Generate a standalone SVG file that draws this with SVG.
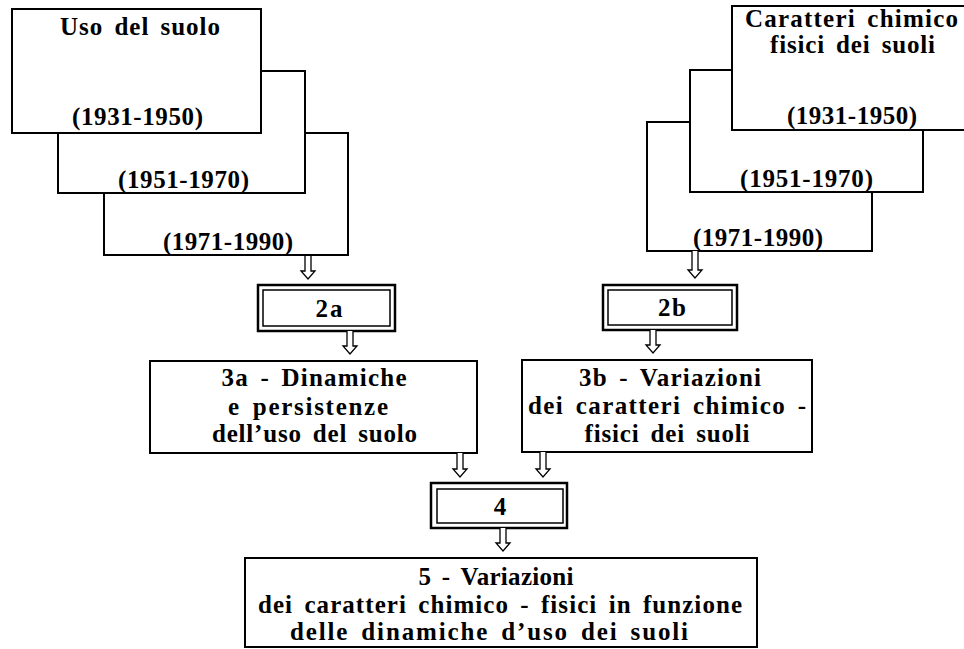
<svg xmlns="http://www.w3.org/2000/svg" width="964" height="649" viewBox="0 0 964 649">
<style>
  .box { fill: #fff; stroke: #000; stroke-width: 2; }
  .outer { fill: #fff; stroke: #000; stroke-width: 2.5; }
  .inner { fill: none; stroke: #000; stroke-width: 1.5; }
  .arr { fill: #fff; stroke: #000; stroke-width: 1.3; stroke-linejoin: miter; }
  text { font-family: "Liberation Serif", "Times New Roman", serif; font-weight: bold; font-size: 25px; fill: #000; text-anchor: middle; word-spacing: 4px; }
</style>
<rect width="964" height="649" fill="#fff"/>

<!-- Left stack -->
<g id="uso-1971">
  <rect class="box" x="104" y="133" width="244" height="122"/>
  <text x="228" y="250" textLength="130" lengthAdjust="spacing">(1971-1990)</text>
</g>
<g id="uso-1951">
  <rect class="box" x="58" y="71" width="247" height="122"/>
  <text x="183.5" y="188" textLength="131" lengthAdjust="spacing">(1951-1970)</text>
</g>
<g id="uso-1931">
  <rect class="box" x="12" y="9" width="249" height="124"/>
  <text x="140" y="35" textLength="160" lengthAdjust="spacing">Uso del suolo</text>
  <text x="137.5" y="125" textLength="131" lengthAdjust="spacing">(1931-1950)</text>
</g>

<!-- Right stack -->
<g id="car-1971">
  <rect class="box" x="647" y="122" width="225" height="129"/>
  <text x="758" y="246" textLength="130" lengthAdjust="spacing">(1971-1990)</text>
</g>
<g id="car-1951">
  <rect class="box" x="690" y="70" width="233" height="122"/>
  <text x="806.5" y="187" textLength="133" lengthAdjust="spacing">(1951-1970)</text>
</g>
<g id="car-1931">
  <rect class="box" x="732" y="6" width="270" height="124"/>
  <text x="851.5" y="27" textLength="213" lengthAdjust="spacing">Caratteri chimico</text>
  <text x="852.5" y="53" textLength="165" lengthAdjust="spacing">fisici dei suoli</text>
  <text x="852" y="124" textLength="130" lengthAdjust="spacing">(1931-1950)</text>
</g>

<!-- 2a / 2b -->
<g id="n2a">
  <rect class="outer" x="258" y="285" width="137" height="46"/>
  <rect class="inner" x="263" y="290" width="127" height="36"/>
  <text x="329" y="317" textLength="27" lengthAdjust="spacing">2a</text>
</g>
<g id="n2b">
  <rect class="outer" x="603" y="285" width="134" height="45"/>
  <rect class="inner" x="608" y="290" width="124" height="35"/>
  <text x="672" y="316" textLength="28" lengthAdjust="spacing">2b</text>
</g>

<!-- 3a / 3b -->
<g id="n3a">
  <rect class="box" x="150" y="361" width="327" height="92"/>
  <text x="314" y="386" textLength="185" lengthAdjust="spacing">3a - Dinamiche</text>
  <text x="308" y="415" textLength="160" lengthAdjust="spacing">e persistenze</text>
  <text x="314.5" y="442" textLength="205" lengthAdjust="spacing">dell’uso del suolo</text>
</g>
<g id="n3b">
  <rect class="box" x="522" y="360" width="290" height="92"/>
  <text x="670" y="386" textLength="182" lengthAdjust="spacing">3b - Variazioni</text>
  <text x="667" y="414" textLength="278" lengthAdjust="spacing">dei caratteri  chimico -</text>
  <text x="667" y="442" textLength="165" lengthAdjust="spacing">fisici dei suoli</text>
</g>

<!-- 4 -->
<g id="n4">
  <rect class="outer" x="431" y="483" width="136" height="45"/>
  <rect class="inner" x="437" y="489" width="126" height="34"/>
  <text x="500" y="515">4</text>
</g>

<!-- 5 -->
<g id="n5">
  <rect class="box" x="245" y="558" width="512" height="89"/>
  <text x="496" y="585" textLength="155" lengthAdjust="spacing">5 - Variazioni</text>
  <text x="500" y="613" textLength="484" lengthAdjust="spacing">dei caratteri  chimico - fisici in funzione</text>
  <text x="489" y="640" textLength="398" lengthAdjust="spacing">delle dinamiche d’uso dei suoli</text>
</g>

<!-- Connectors -->
<g id="connectors">
  <path class="arr" d="M305,256 V271 H301 L308,279 L315,271 H311 V256"/>
  <path class="arr" d="M347,331 V346 H343 L350,354 L357,346 H353 V331"/>
  <path class="arr" d="M692,251 V270 H688 L695,278 L702,270 H698 V251"/>
  <path class="arr" d="M650,330 V345 H646 L653,353 L660,345 H656 V330"/>
  <path class="arr" d="M457,453 V469 H453 L460,477 L467,469 H463 V453"/>
  <path class="arr" d="M540,452 V469 H536 L543,477 L550,469 H546 V452"/>
  <path class="arr" d="M500,528 V543 H496 L503,551 L510,543 H506 V528"/>
</g>
</svg>
